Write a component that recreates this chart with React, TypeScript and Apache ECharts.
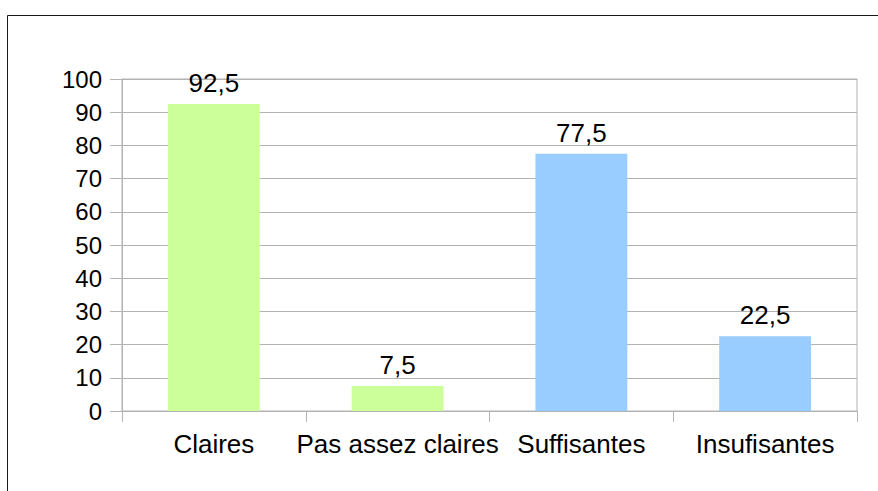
import React, { useEffect, useRef } from "react";
import * as echarts from "echarts";

const categories = ["Claires", "Pas assez claires", "Suffisantes", "Insufisantes"];
const values = [92.5, 7.5, 77.5, 22.5];
const barColors = ["#ccff99", "#ccff99", "#99ccff", "#99ccff"];
const yTicks = { min: 0, max: 100, interval: 10 };

export default function App() {
  const ref = useRef<HTMLDivElement>(null);
  useEffect(() => {
    if (!ref.current) return;
    const chart = echarts.init(ref.current, null, { renderer: "svg" });
    const font = "'Liberation Sans', Arial, sans-serif";
    chart.setOption({
      animation: false,
      backgroundColor: "#ffffff",
      textStyle: { fontFamily: font },
      graphic: [
        {
          type: "rect",
          shape: { x: 7.5, y: 15.5, width: 1000, height: 1000 },
          style: { fill: "none", stroke: "#1a1a1a", lineWidth: 1 },
          silent: true,
        },
      ],
      grid: {
        left: 122,
        right: 21,
        top: 79,
        bottom: 80,
        show: true,
        borderColor: "#b3b3b3",
        borderWidth: 1,
        containLabel: false,
      },
      xAxis: {
        type: "category",
        data: categories,
        axisLine: { lineStyle: { color: "#b3b3b3", width: 1 } },
        axisTick: { show: true, length: 11, lineStyle: { color: "#b3b3b3" } },
        axisLabel: {
          color: "#000000",
          fontSize: 26,
          margin: 20,
          interval: 0,
          hideOverlap: false,
          fontFamily: font,
        },
      },
      yAxis: {
        type: "value",
        min: yTicks.min,
        max: yTicks.max,
        interval: yTicks.interval,
        axisLine: { show: true, lineStyle: { color: "#b3b3b3", width: 1 } },
        axisTick: { show: true, length: 12, lineStyle: { color: "#b3b3b3" } },
        splitLine: { show: true, lineStyle: { color: "#b3b3b3", width: 1 } },
        axisLabel: { color: "#000000", fontSize: 24, margin: 20, fontFamily: font },
      },
      series: [
        {
          type: "bar",
          barWidth: "50%",
          data: values.map((v, i) => ({ value: v, itemStyle: { color: barColors[i] } })),
          label: {
            show: true,
            position: "top",
            distance: 8,
            color: "#000000",
            fontSize: 26,
            fontFamily: font,
            formatter: (p: any) => String(p.value).replace(".", ","),
          },
        },
      ],
    });
    return () => chart.dispose();
  }, []);
  return (
    <div
      ref={ref}
      style={{ position: "fixed", left: 0, top: 0, width: 878, height: 491 }}
    />
  );
}
